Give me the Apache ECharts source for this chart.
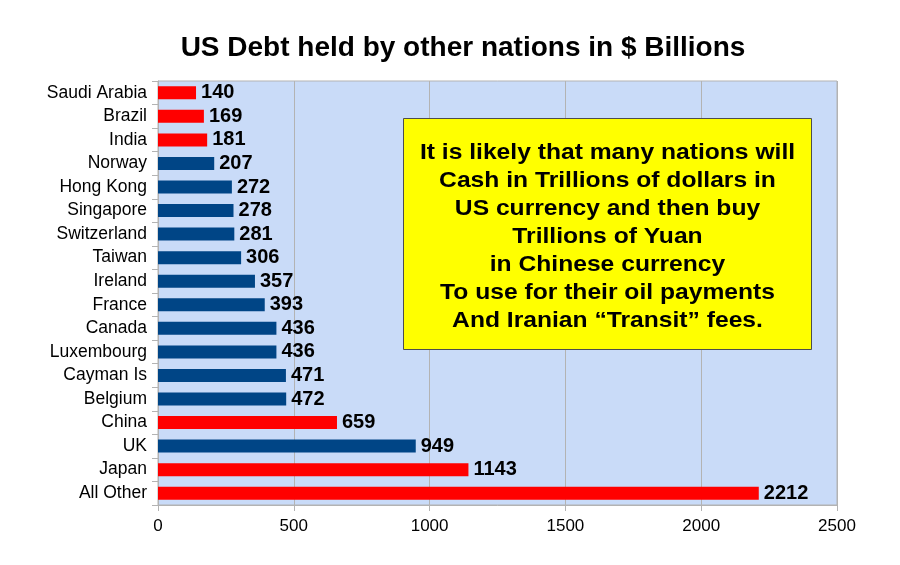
<!DOCTYPE html>
<html><head><meta charset="utf-8">
<script src="https://cdn.jsdelivr.net/npm/echarts@6/dist/echarts.min.js"></script>
<style>html,body{margin:0;padding:0;background:#fff}#c{width:900px;height:565px}</style>
</head><body><div id="c"></div>
<script>
const categories = ["Saudi Arabia","Brazil","India","Norway","Hong Kong","Singapore","Switzerland","Taiwan","Ireland","France","Canada","Luxembourg","Cayman Is","Belgium","China","UK","Japan","All Other"];
const values = [140,169,181,207,272,278,281,306,357,393,436,436,471,472,659,949,1143,2212];
const highlight = [true,true,true,false,false,false,false,false,false,false,false,false,false,false,true,false,true,true];
const xTicks = [0,500,1000,1500,2000,2500];
const titleText = "US Debt held by other nations in $ Billions";
const noteLines = ["It is likely that many nations will","Cash in Trillions of dollars in","US currency and then buy","Trillions of Yuan","in Chinese currency","To use for their oil payments","And Iranian \u201cTransit\u201d fees."];

const RED = '#ff0000', BLUE = '#004586';
const chart = echarts.init(document.getElementById('c'), null, {renderer:'canvas'});
chart.setOption({
  animation:false,
  backgroundColor:'#ffffff',
  title:{text:titleText,left:458,top:29,textAlign:'center',
    textStyle:{fontFamily:'"Liberation Sans",sans-serif',fontWeight:'bold',fontSize:28,color:'#000'}},
  grid:{left:158,right:63,top:81,bottom:60,show:true,backgroundColor:'#c9dbf8',borderColor:'#b3b3b3',borderWidth:1},
  xAxis:{type:'value',min:xTicks[0],max:xTicks[xTicks.length-1],interval:500,
    axisLine:{show:true,lineStyle:{color:'#b3b3b3'}},
    axisTick:{show:true,length:6,lineStyle:{color:'#b3b3b3'}},
    axisLabel:{color:'#000',fontSize:17,fontFamily:'"Liberation Sans",sans-serif',margin:13,formatter:v=>String(v)},
    splitLine:{show:true,lineStyle:{color:'#b3b3b3',width:1}}},
  yAxis:{type:'category',data:categories,inverse:true,
    axisLine:{show:true,lineStyle:{color:'#b3b3b3'}},
    axisTick:{show:true,length:6,lineStyle:{color:'#b3b3b3'}},
    axisLabel:{color:'#000',fontSize:17.5,fontFamily:'"Liberation Sans",sans-serif',margin:11}},
  series:[{type:'bar',barWidth:13,
    data:values.map((v,i)=>({value:v,itemStyle:{color:highlight[i]?RED:BLUE}})),
    label:{show:true,position:'right',distance:5,color:'#000',fontWeight:'bold',fontSize:20,fontFamily:'"Liberation Sans",sans-serif'}}],
  graphic:[{type:'group',left:403,top:118,z:100,children:[
    {type:'rect',z:100,shape:{x:0,y:0,width:408,height:231},style:{fill:'#ffff00',stroke:'#4d4d4d',lineWidth:1}},
    {type:'group',x:204,y:20,scaleX:1.12,z:101,children:[
      {type:'text',z:101,x:0,y:0,style:{text:noteLines.join('\n'),align:'center',verticalAlign:'top',lineHeight:28,
        font:'bold 22px "Liberation Sans", sans-serif',fill:'#000'}}
    ]}
  ]}]
});
</script></body></html>
